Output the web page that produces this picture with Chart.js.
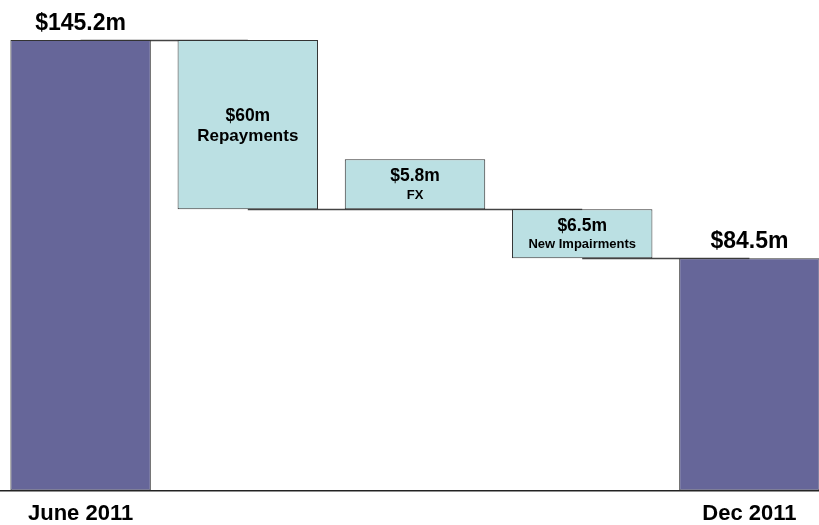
<!DOCTYPE html>
<html>
<head>
<meta charset="utf-8">
<script src="https://cdn.jsdelivr.net/npm/chart.js@4/dist/chart.umd.min.js"></script>
<style>
  body { margin: 0; background: #fff; overflow: hidden; }
  /* a bit wider/taller than the window so the outer bars sit like the original */
  #wrap { position: absolute; left: -3px; top: 0; width: 836px; height: 537px; }
</style>
</head>
<body>
<div id="wrap"><canvas id="chart"></canvas></div>
<script>
// Waterfall data (bar extents read off the picture, which is not drawn to scale)
const categories = ["June 2011", "Repayments", "FX", "New Impairments", "Dec 2011"];
const tickLabels = ["June 2011", "", "", "", "Dec 2011"];
const valueLabels = ["$145.2m", "$60m", "$5.8m", "$6.5m", "$84.5m"];
const stepNames = ["", "Repayments", "FX", "New Impairments", ""];
const barStarts = [0, 90.7, 90.7, 74.9, 0];
const barEnds = [145.2, 145.2, 106.8, 90.7, 74.9];
const isTotal = [true, false, false, false, true];

const totalColor = "#666699";
const stepColor = "#BBE0E3";
const nameSizes = [0, 17, 13, 13, 0];

// level shared by two neighbouring bars
function sharedLevel(i) {
  const a = [barStarts[i], barEnds[i]];
  const b = [barStarts[i + 1], barEnds[i + 1]];
  return a.find((v) => b.includes(v));
}

const connectorPlugin = {
  id: "connectors",
  beforeDatasetsDraw(chart) {
    const { ctx } = chart;
    const bars = chart.getDatasetMeta(0).data;
    const y = chart.scales.y;
    ctx.save();
    ctx.strokeStyle = "#444";
    ctx.lineWidth = 1.5;
    for (let i = 0; i < bars.length - 1; i++) {
      const lvl = sharedLevel(i);
      if (lvl === undefined) continue;
      const py = Math.round(y.getPixelForValue(lvl)) + 0.5;
      ctx.beginPath();
      ctx.moveTo(bars[i].x, py);
      ctx.lineTo(bars[i + 1].x, py);
      ctx.stroke();
    }
    ctx.restore();
  },
};

const labelPlugin = {
  id: "waterfallLabels",
  afterDatasetsDraw(chart) {
    const { ctx } = chart;
    const bars = chart.getDatasetMeta(0).data;
    ctx.save();
    ctx.fillStyle = "#000";
    ctx.textAlign = "center";
    bars.forEach((bar, i) => {
      const top = Math.min(bar.y, bar.base);
      const bottom = Math.max(bar.y, bar.base);
      if (isTotal[i]) {
        ctx.font = "bold 23px 'Liberation Sans', Arial, sans-serif";
        ctx.textBaseline = "alphabetic";
        ctx.fillText(valueLabels[i], bar.x, top - 10);
      } else {
        const mid = (top + bottom) / 2 + 1.5;
        const gap = (17.5 + nameSizes[i]) / 2 + 3.5;
        ctx.textBaseline = "middle";
        ctx.font = "bold 17.5px 'Liberation Sans', Arial, sans-serif";
        ctx.fillText(valueLabels[i], bar.x, mid - gap / 2);
        ctx.font = "bold " + nameSizes[i] + "px 'Liberation Sans', Arial, sans-serif";
        ctx.fillText(stepNames[i], bar.x, mid + gap / 2);
      }
    });
    ctx.restore();
  },
};

new Chart(document.getElementById("chart"), {
  type: "bar",
  data: {
    labels: categories,
    datasets: [
      {
        data: barStarts.map((s, i) => [s, barEnds[i]]),
        backgroundColor: isTotal.map((t) => (t ? totalColor : stepColor)),
        borderColor: "#333",
        borderWidth: 1,
        borderSkipped: false,
        barPercentage: 0.84,
        categoryPercentage: 1,
        clip: false,
      },
    ],
  },
  options: {
    responsive: true,
    maintainAspectRatio: false,
    animation: false,
    layout: { padding: 0 },
    plugins: {
      legend: { display: false },
      tooltip: { enabled: false },
    },
    scales: {
      x: {
        grid: { display: false, drawTicks: false },
        border: { display: true, color: "#222", width: 1.5 },
        ticks: {
          autoSkip: false,
          maxRotation: 0,
          padding: 10,
          color: "#000",
          font: { family: "'Liberation Sans', Arial, sans-serif", size: 22, weight: "bold" },
          callback: (v, i) => tickLabels[i],
        },
      },
      y: {
        display: false,
        min: 0,
        max: 158.1,
      },
    },
  },
  plugins: [connectorPlugin, labelPlugin],
});
</script>
</body>
</html>
